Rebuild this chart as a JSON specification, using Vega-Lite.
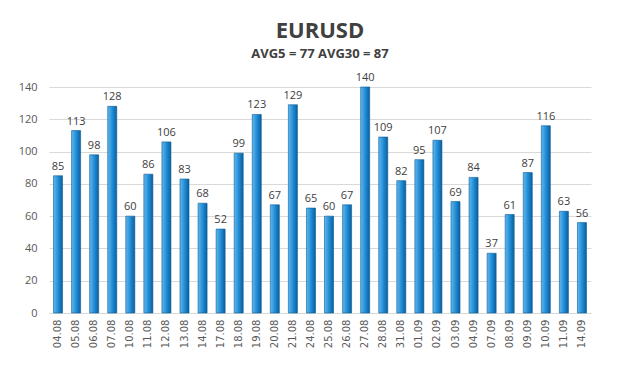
{
  "$schema": "https://vega.github.io/schema/vega-lite/v6.json",
  "autosize": {"type": "none"},
  "width": 542,
  "height": 226,
  "padding": {"left": 49, "top": 87, "right": 29, "bottom": 79},
  "background": "white",
  "title": {
    "text": "EURUSD",
    "subtitle": "AVG5 = 77 AVG30 = 87",
    "font": "Open Sans",
    "fontSize": 22,
    "fontWeight": "bold",
    "color": "#404040",
    "subtitleFont": "Open Sans",
    "subtitleFontSize": 13,
    "subtitleFontWeight": "bold",
    "subtitleColor": "#404040",
    "subtitlePadding": 5,
    "anchor": "middle",
    "offset": 10
  },
  "data": {
    "values": [
      {"date": "04.08", "value": 85},
      {"date": "05.08", "value": 113},
      {"date": "06.08", "value": 98},
      {"date": "07.08", "value": 128},
      {"date": "10.08", "value": 60},
      {"date": "11.08", "value": 86},
      {"date": "12.08", "value": 106},
      {"date": "13.08", "value": 83},
      {"date": "14.08", "value": 68},
      {"date": "17.08", "value": 52},
      {"date": "18.08", "value": 99},
      {"date": "19.08", "value": 123},
      {"date": "20.08", "value": 67},
      {"date": "21.08", "value": 129},
      {"date": "24.08", "value": 65},
      {"date": "25.08", "value": 60},
      {"date": "26.08", "value": 67},
      {"date": "27.08", "value": 140},
      {"date": "28.08", "value": 109},
      {"date": "31.08", "value": 82},
      {"date": "01.09", "value": 95},
      {"date": "02.09", "value": 107},
      {"date": "03.09", "value": 69},
      {"date": "04.09", "value": 84},
      {"date": "07.09", "value": 37},
      {"date": "08.09", "value": 61},
      {"date": "09.09", "value": 87},
      {"date": "10.09", "value": 116},
      {"date": "11.09", "value": 63},
      {"date": "14.09", "value": 56}
    ]
  },
  "encoding": {
    "x": {
      "field": "date",
      "type": "nominal",
      "sort": null,
      "scale": {"paddingInner": 0.5, "paddingOuter": 0.25},
      "axis": {
        "title": null,
        "labelAngle": 270,
        "labelFont": "DejaVu Sans",
        "labelFontSize": 10,
        "labelColor": "#595959",
        "labelPadding": 6,
        "ticks": false,
        "domain": false
      }
    },
    "y": {
      "field": "value",
      "type": "quantitative",
      "scale": {"domain": [0, 140], "nice": false},
      "axis": {
        "title": null,
        "values": [0, 20, 40, 60, 80, 100, 120, 140],
        "labelFont": "Open Sans",
        "labelFontSize": 11,
        "labelColor": "#595959",
        "labelPadding": 12,
        "ticks": false,
        "domain": false,
        "gridColor": "#d9d9d9",
        "gridWidth": 1
      }
    }
  },
  "layer": [
    {
      "mark": {
        "type": "bar",
        "stroke": "#0b5a95",
        "strokeWidth": 0.6,
        "color": {
          "gradient": "linear",
          "x1": 0, "x2": 1, "y1": 0, "y2": 0,
          "stops": [
            {"offset": 0, "color": "#62b8ee"},
            {"offset": 0.55, "color": "#1d8ad4"},
            {"offset": 1, "color": "#0d5e9c"}
          ]
        }
      }
    },
    {
      "mark": {
        "type": "text",
        "dy": -9,
        "font": "Open Sans",
        "fontSize": 11,
        "color": "#404040"
      },
      "encoding": {"text": {"field": "value", "type": "quantitative"}}
    }
  ],
  "config": {"view": {"stroke": null}}
}
